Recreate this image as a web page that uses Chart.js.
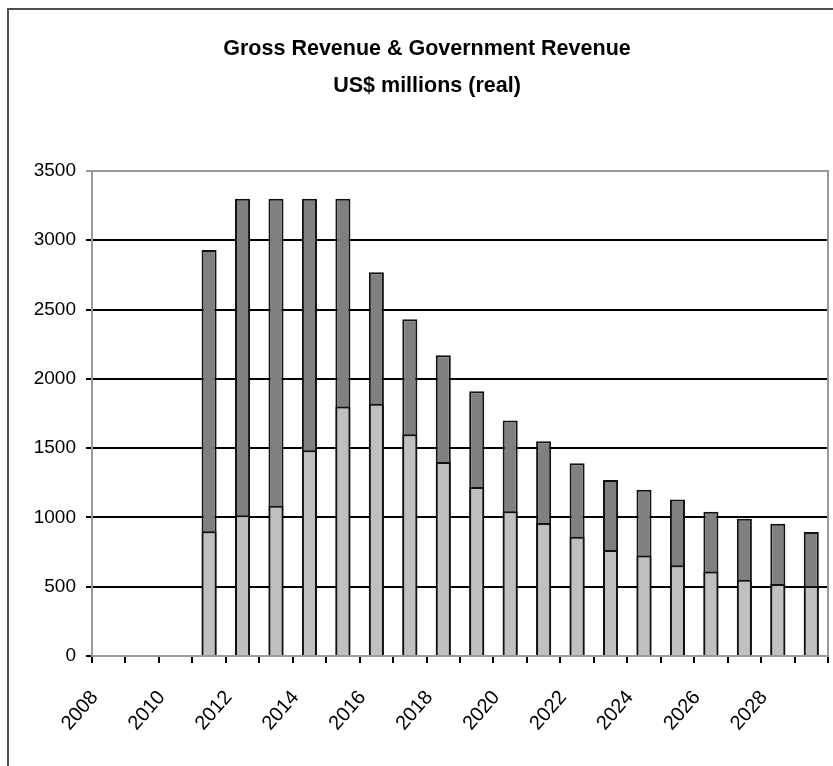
<!DOCTYPE html>
<html>
<head>
<meta charset="utf-8">
<script src="https://cdn.jsdelivr.net/npm/chart.js@4.4.1/dist/chart.umd.min.js"></script>
<style>
  html, body { margin: 0; padding: 0; background: #fff; overflow: hidden; }
  #wrap { position: relative; width: 833px; height: 766px; }
  #frame { position: absolute; left: 7px; top: 8px; width: 900px; height: 900px; border: 2px solid #505050; }
  #chart { position: absolute; left: 0; top: 0; }
</style>
</head>
<body>
<div id="wrap">
  <div id="frame"></div>
  <canvas id="chart" width="833" height="766"></canvas>
</div>
<script>
  // years on the category axis
  const years = ['2008', '2009', '2010', '2011', '2012', '2013', '2014', '2015', '2016', '2017', '2018',
                 '2019', '2020', '2021', '2022', '2023', '2024', '2025', '2026', '2027', '2028', '2029'];

  // gross revenue (full bar height), US$ millions
  const grossRevenue = [null, null, null, 2930, 3300, 3300, 3300, 3300, 2770, 2430, 2170,
                        1910, 1700, 1550, 1390, 1270, 1200, 1130, 1040, 990, 955, 895];

  // government revenue (light part), US$ millions
  const govRevenue = [null, null, null, 900, 1015, 1085, 1485, 1800, 1820, 1600, 1400,
                      1220, 1045, 960, 860, 765, 725, 655, 610, 550, 520, 505];

  const yTicks = { min: 0, max: 3500, step: 500 };

  const fontFamily = "'Liberation Sans', Arial, sans-serif";

  // gray border round the plot area (top and right show through)
  const plotBorder = {
    id: 'plotBorder',
    beforeDatasetsDraw(chart) {
      const a = chart.chartArea;
      const ctx = chart.ctx;
      ctx.save();
      ctx.strokeStyle = '#9a9a9a';
      ctx.lineWidth = 2;
      ctx.strokeRect(a.left, a.top, a.right - a.left, a.bottom - a.top);
      ctx.restore();
    }
  };

  const ctx = document.getElementById('chart').getContext('2d');
  const chart = new Chart(ctx, {
    type: 'bar',
    data: {
      labels: years,
      datasets: [
        {
          label: 'Government Revenue',
          data: govRevenue,
          backgroundColor: '#c0c0c0',
          borderColor: '#111',
          borderWidth: 2,
          grouped: false,
          categoryPercentage: 1,
          barPercentage: 0.45
        },
        {
          label: 'Gross Revenue',
          data: grossRevenue,
          backgroundColor: '#808080',
          borderColor: '#111',
          borderWidth: 2,
          grouped: false,
          categoryPercentage: 1,
          barPercentage: 0.45
        }
      ]
    },
    options: {
      responsive: false,
      animation: false,
      layout: { padding: { left: 26, right: 5, top: 0, bottom: 0 } },
      plugins: {
        legend: { display: false },
        tooltip: { enabled: false },
        title: {
          display: true,
          text: ['Gross Revenue & Government Revenue', 'US$ millions (real)'],
          color: '#000',
          font: { family: fontFamily, size: 21.5, weight: 'bold', lineHeight: 1.72 },
          padding: { top: 30.5, bottom: 66.5 }
        }
      },
      scales: {
        x: {
          grid: {
            offset: true,
            drawOnChartArea: false,
            drawTicks: true,
            tickLength: 7,
            color: '#000',
            lineWidth: 2
          },
          border: { color: '#000', width: 2 },
          ticks: {
            autoSkip: false,
            maxRotation: 49,
            minRotation: 49,
            labelOffset: -14,
            padding: 23,
            color: '#000',
            font: { family: fontFamily, size: 20 },
            callback: function (value, index) {
              return index % 2 === 0 ? this.getLabelForValue(value) : '';
            }
          },
          afterFit: function (scale) {
            scale.height = 110;
            scale.paddingLeft = 0;
            scale.paddingRight = 0;
          }
        },
        y: {
          min: yTicks.min,
          max: yTicks.max,
          grid: {
            color: function (c) { return c.tick && c.tick.value === yTicks.max ? '#9a9a9a' : '#000'; },
            lineWidth: 2,
            tickLength: 6,
            drawTicks: true
          },
          border: { color: '#000', width: 2 },
          ticks: {
            stepSize: yTicks.step,
            padding: 10,
            color: '#000',
            font: { family: fontFamily, size: 19 },
            callback: function (value) { return String(value); }
          },
          afterFit: function (scale) { scale.width = 66; }
        }
      }
    },
    plugins: [plotBorder]
  });
</script>
</body>
</html>
